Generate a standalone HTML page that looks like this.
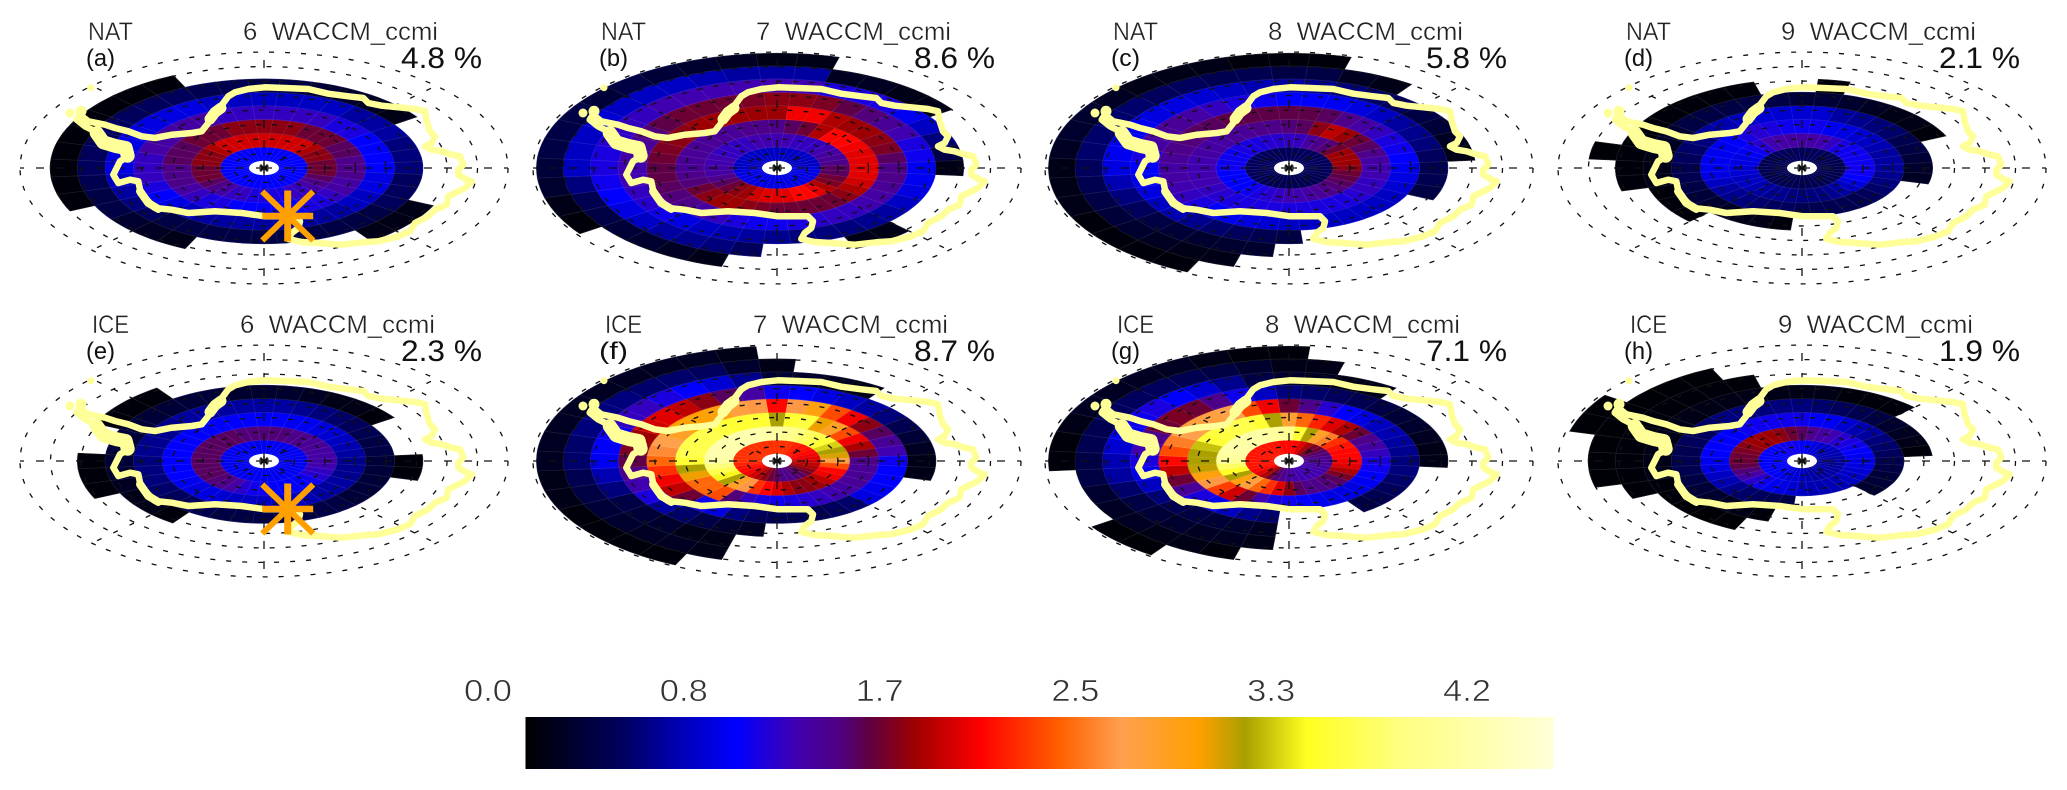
<!DOCTYPE html>
<html lang="en">
<head>
<meta charset="utf-8">
<title>NAT and ICE polar maps, WACCM_ccmi</title>
<style>
html,body{margin:0;padding:0;background:#fff;width:2067px;height:790px;overflow:hidden}
svg{display:block;filter:blur(.35px)}
text{font-family:"Liberation Sans",sans-serif;white-space:pre}
</style>
</head>
<body>
<svg id="chart" xmlns="http://www.w3.org/2000/svg" width="2067" height="790" viewBox="0 0 2067 790">
<rect width="2067" height="790" fill="#fff"/>
<defs>
<linearGradient id="cbGrad" x1="0" x2="1" y1="0" y2="0"></linearGradient>
</defs>
</svg>
<script>
const _ = null;
/* Colour bar */
const cbFractions = [0,.096,.147,.205,.263,.306,.335,.38,.443,.52,.58,.655,.70,.76,.85,1];
const cbColors = ['#000000','#000060','#0000b0','#0000ff','#4000b0','#500080','#600040','#a00000','#ff0000','#ff6000','#ffa050','#ffa000','#a8a000','#ffff20','#ffff80','#ffffd8'];
const cbTickLabels = ['0.0','0.8','1.7','2.5','3.3','4.2'];
const cbMax = 4.37;
/* Panel text */
const panelSpecies = ['NAT','NAT','NAT','NAT','ICE','ICE','ICE','ICE'];
const panelMonths = ['6','7','8','9','6','7','8','9'];
const panelLetters = ['(a)','(b)','(c)','(d)','(e)','(f)','(g)','(h)'];
const panelPercents = ['4.8','8.6','5.8','2.1','2.3','8.7','7.1','1.9'];
const starPanels = [0,4];
/* Gridded values: [ring 0..7 from the pole][sector 0..35 clockwise from top] */
const natJun = [
[.9,.9,.9,.9,.9,.9,.9,.9,.9, .9,.9,.9,.9,.9,.9,.9,.9,.9, .9,.9,.9,.9,.9,.9,.9,.9,.9, .9,.9,.9,.9,.9,.9,.9,.9,.9],
[1.8,1.8,1.8,1.8,1.8,1.7,1.6,1.6,1.5, 1.5,1.5,1.4,1.3,1.2,1.1,1.1,1,1, 1,1,1.1,1.1,1.2,1.3,1.4,1.5,1.5, 1.5,1.6,1.6,1.6,1.7,1.8,1.8,1.8,1.8],
[1.6,1.6,1.6,1.5,1.5,1.5,1.4,1.4,1.3, 1.3,1.3,1.2,1.2,1.1,1,1,.9,.9, .9,.9,.9,1,1,1.1,1.2,1.3,1.3, 1.3,1.4,1.4,1.4,1.5,1.5,1.5,1.6,1.6],
[1.1,1.1,1.1,1.1,1,1,.9,.9,.9, .9,.8,.8,.7,.7,.6,.6,.6,.6, .6,.6,.6,.6,.7,.8,.9,1,1.1, 1.1,1.1,1.2,1.2,1.2,1.2,1.2,1.1,1.1],
[.7,.7,.7,.7,.6,.6,.6,.5,.5, .5,.4,.4,.4,.3,.3,.3,.3,.3, .3,.3,.3,.3,.3,.4,.5,.6,.7, .8,.8,.8,.8,.8,.8,.8,.7,.7],
[.3,.3,.25,.2,.15,.1,_,_,_, _,_,_,.1,.1,.1,_,_,_, _,_,_,.1,.15,.2,.3,.3,.35, .4,.4,.4,.4,.4,.4,.4,.35,.35],
[_,_,_,_,_,_,_,_,_, _,_,_,_,_,_,_,_,_, _,_,_,_,_,_,_,.05,.05, .05,.05,.05,.05,.05,.05,.05,_,_],
[_,_,_,_,_,_,_,_,_, _,_,_,_,_,_,_,_,_, _,_,_,_,_,_,_,_,_, _,_,_,_,_,_,_,_,_]
];
const natJul = [
[.7,.7,.7,.7,.7,.7,.7,.7,.7, .8,.8,.8,.8,.8,.8,.8,.8,.8, .8,.8,.8,.8,.8,.8,.8,.8,.8, .7,.7,.7,.7,.7,.7,.7,.7,.7],
[1.15,1.15,1.1,1.1,1.1,1.15,1.2,1.25,1.3, 1.4,1.4,1.5,1.55,1.7,1.85,1.95,1.95,1.85, 1.85,1.85,1.8,1.65,1.6,1.5,1.4,1.3,1.2, 1.2,1.15,1.15,1.1,1.1,1.1,1.1,1.15,1.15],
[1.3,1.4,1.5,1.7,1.95,1.95,1.9,1.85,1.85, 1.85,1.85,1.8,1.7,1.6,1.5,1.5,1.5,1.5, 1.5,1.55,1.6,1.65,1.65,1.6,1.5,1.35,1.3, 1.25,1.25,1.25,1.25,1.25,1.25,1.25,1.3,1.3],
[1.65,1.9,1.9,1.7,1.65,1.65,1.6,1.55,1.4, 1.3,1.3,1.25,1.2,1.15,1.1,1.1,1.05,1, .95,.95,1,1.1,1.2,1.3,1.35,1.4,1.45, 1.45,1.5,1.55,1.6,1.6,1.65,1.65,1.65,1.65],
[1.6,1.6,1.55,1.45,1.35,1.25,1.15,1,.95, .85,.85,.8,.7,.6,.55,.5,.5,.5, .55,.6,.65,.7,.8,.95,1.05,1.1,1.15, 1.15,1.2,1.25,1.35,1.45,1.5,1.5,1.5,1.55],
[1.15,1.15,1,1,1,.85,.7,.5,.3, .1,_,_,_,_,.1,.1,_,_, _,.4,.5,.55,.6,.7,.8,.9,.95, 1,1,1.05,1.1,1.1,1.15,1.15,1.15,1.15],
[.6,.6,.15,.15,.1,.1,_,_,_, _,_,_,_,_,_,_,_,_, _,_,.1,.15,.2,.25,.3,.35,.5, .7,.7,.7,.75,.7,.7,.7,.65,.6],
[.1,.1,_,_,_,_,_,_,_, _,_,_,_,_,_,_,_,_, _,_,_,_,_,_,.05,.1,.2, .25,.3,.3,.3,.25,.3,.25,.2,.15]
];
const natAug = [
[.4,.4,.4,.4,.4,.4,.4,.4,.4, .4,.4,.4,.35,.35,.35,.35,.35,.35, .35,.35,.35,.35,.35,.35,.4,.4,.4, .4,.4,.4,.4,.4,.4,.4,.4,.4],
[1.1,1.1,1.2,1.3,1.35,1.5,1.65,1.65,1.65, 1.6,1.5,1.45,1.4,1.35,1.3,1.25,1.2,1.15, 1.15,1.1,1.05,1,.95,.9,.9,.9,.9, .95,.95,.95,.95,1,1,1,1.05,1.05],
[1.35,1.4,1.6,1.75,1.65,1.5,1.4,1.3,1.2, 1.15,1.15,1.1,1.1,1.05,1,1,1,1, 1,1,1,1,1,1.05,1.1,1.15,1.15, 1.15,1.15,1.2,1.2,1.2,1.25,1.25,1.3,1.3],
[1.45,1.45,1.4,1.3,1.2,1.1,1,.95,.9, .85,.8,.75,.7,.7,.7,.7,.7,.7, .7,.75,.8,.85,.9,1,1.1,1.15,1.2, 1.2,1.25,1.3,1.35,1.4,1.4,1.45,1.45,1.45],
[.9,.9,.85,.8,.7,.6,.55,.5,.4, .35,.35,.3,_,_,_,_,_,_, .3,.35,.4,.45,.55,.65,.7,.8,.85, .9,1,1.2,1.25,1.25,1.2,1.1,1,.95],
[.6,.55,.5,.45,.4,.3,.25,.15,.1, _,_,_,_,_,_,_,_,_, _,.2,.2,.2,.25,.3,.4,.5,.65, .8,.85,.85,.85,.8,.8,.75,.7,.65],
[.3,.3,.15,.1,_,_,_,_,_, _,_,_,_,_,_,_,_,_, _,_,.1,.1,.15,.2,.25,.3,.35, .4,.45,.45,.45,.45,.4,.4,.35,.35],
[.05,.05,_,_,_,_,_,_,_, _,_,_,_,_,_,_,_,_, _,_,_,.05,.05,.05,.05,.1,.1, .1,.15,.2,.2,.15,.1,.1,.1,.05]
];
const natSep = [
[.4,.4,.4,.4,.35,.35,.35,.35,.35, .35,.35,.35,.35,.35,.35,.35,.35,.35, .35,.35,.35,.35,.35,.35,.35,.35,.35, .35,.35,.35,.35,.35,.4,.4,.4,.4],
[1.2,1.2,1.15,1.1,1,.95,.95,.95,.95, .95,.95,.9,.8,.7,.6,.55,.5,.5, .5,.5,.55,.55,.6,.65,.7,.7,.75, .75,.8,.8,.85,.95,1.05,1.15,1.2,1.2],
[.95,.95,.85,.8,.75,.7,.65,.6,.6, .6,.55,.5,.45,.4,.35,.35,.35,.35, .35,.4,.4,.45,.5,.55,.6,.7,.8, .85,.85,.85,.85,.9,1,1.05,1,.95],
[.75,.75,.6,.55,.5,.45,.35,.3,.25, .2,.15,_,_,_,_,_,_,_, _,.05,.1,.1,.15,.2,.25,.3,.35, .35,.4,.45,.5,.6,.65,.7,.75,.75],
[.25,.25,.2,.15,.1,.1,.05,_,_, _,_,_,_,_,_,_,_,_, _,_,_,_,_,.05,.05,.05,.1, .1,.1,.15,.2,.3,.3,.3,.3,.3],
[_,.05,_,_,_,_,_,_,_, _,_,_,_,_,_,_,_,_, _,_,_,_,_,_,_,_,.05, .05,.05,.05,.05,.05,.05,.05,.05,_],
[_,_,_,_,_,_,_,_,_, _,_,_,_,_,_,_,_,_, _,_,_,_,_,_,_,_,_, _,.03,_,_,_,_,_,_,_],
[_,_,_,_,_,_,_,_,_, _,_,_,_,_,_,_,_,_, _,_,_,_,_,_,_,_,_, _,_,_,_,_,_,_,_,_]
];
const iceJun = [
[.85,.85,.85,.85,.85,.85,.85,.85,.85, .85,.85,.85,.85,.85,.85,.85,.85,.85, .85,.85,.85,.85,.85,.85,.85,.85,.85, .85,.85,.85,.85,.85,.85,.85,.85,.85],
[1.35,1.35,1.35,1.3,1.3,1.25,1.25,1.2,1.2, 1.2,1.15,1.1,1.05,.95,.9,.9,.9,.9, .95,.95,1.05,1.2,1.3,1.35,1.4,1.4,1.4, 1.4,1.4,1.4,1.4,1.4,1.4,1.4,1.35,1.35],
[.9,.9,.85,.85,.8,.75,.7,.65,.6, .55,.55,.55,.6,.6,.6,.65,.7,.7, .7,.7,.7,.75,.8,.8,.85,.9,.9, .9,.9,.9,.9,.9,.9,.9,.9,.9],
[.6,.6,.55,.5,.45,.4,.35,.3,.3, .25,.25,.25,.25,.25,.3,.3,.3,.3, .3,.3,.3,.35,.4,.4,.45,.5,.5, .5,.55,.55,.55,.55,.6,.6,.6,.6],
[.2,.2,.15,.1,.1,.05,_,_,_, .05,.05,_,_,_,_,_,_,_, _,_,_,_,.05,.1,.1,.15,.2, .25,.25,.25,.25,.25,.25,.25,.25,.2],
[_,_,_,_,_,_,_,_,_, _,_,_,_,_,_,_,_,_, _,_,_,_,_,_,_,.05,.05, .05,_,_,.05,.05,.05,_,_,_],
[_,_,_,_,_,_,_,_,_, _,_,_,_,_,_,_,_,_, _,_,_,_,_,_,_,_,_, _,_,_,_,_,_,_,_,_],
[_,_,_,_,_,_,_,_,_, _,_,_,_,_,_,_,_,_, _,_,_,_,_,_,_,_,_, _,_,_,_,_,_,_,_,_]
];
const iceJul = [
[2.1,2.1,2.1,2.05,2,2,1.95,1.9,1.85, 1.8,1.75,1.7,1.6,1.5,1.4,1.35,1.3,1.3, 1.4,1.5,1.6,1.7,1.8,1.9,1.95,2,2.05, 2.1,2.1,2.1,2.1,2.1,2.1,2.1,2.1,2.1],
[3.95,3.85,3.75,3.6,3.5,3.4,3.2,3.05,2.95, 2.6,2.2,1.95,1.9,1.75,1.65,1.6,1.6,1.7, 1.85,1.95,2.1,2.5,2.7,3.05,3.3,3.5,3.7, 3.95,4.05,4.05,4.05,4.05,4.05,4.05,4.05,4],
[3.05,3.4,3.45,2.9,2.7,2.2,1.9,1.7,1.5, 1.3,1.25,1.25,1.25,1.2,1.15,1.1,1.05,1, .95,1,1.1,1.35,2.2,2.3,2.3,2.9,3.05, 3.4,3.5,3.5,3.5,3.5,3.45,3.4,3.4,3.4],
[1.95,2.5,2.8,2.2,1.9,1.6,1.4,1.25,1.15, .95,.9,.9,.85,.8,.45,.4,.35,.35, .35,.4,.5,.8,.95,1.5,1.75,1.9,2.1, 2.3,2.45,2.55,2.7,2.85,2.85,2.8,2.6,2.5],
[.95,.9,.8,.7,.6,.5,.35,.25,.15, .1,.1,_,_,_,_,_,_,_, _,.15,.2,.3,.45,.6,1,1.15,1.3, 1.45,1.55,1.65,1.8,1.85,1.75,1.6,1.4,1.2],
[.25,.2,.15,.1,_,_,_,_,_, _,_,_,_,_,_,_,_,_, _,_,.1,.1,.2,.25,.3,.5,.65, .85,.9,.95,1.1,1.1,1,.9,.75,.55],
[.1,_,_,_,_,_,_,_,_, _,_,_,_,_,_,_,_,_, _,_,.1,.15,.15,.2,.25,.3,.35, .45,.45,.5,.5,.5,.45,.45,.4,.2],
[_,_,_,_,_,_,_,_,_, _,_,_,_,_,_,_,_,_, _,_,_,.05,.05,.05,.05,.1,.1, .15,.15,.15,.15,.15,.15,.15,.15,.1]
];
const iceAug = [
[1.95,1.95,1.85,1.7,1.55,1.5,1.4,1.35,1.3, 1.25,1.25,1.2,1.2,1.15,1.15,1.15,1.15,1.2, 1.2,1.3,1.35,1.5,1.7,1.85,1.95,2,2, 2,2,2,2,2,2,2,2,1.95],
[3.8,3.4,3.05,2.7,2.4,2.1,2,1.95,1.95, 1.9,1.85,1.7,1.55,1.4,1.35,1.3,1.3,1.4, 1.6,1.85,2.1,2.3,2.6,2.8,3.05,3.35,3.6, 3.85,3.95,4,4,4,4,4,3.95,3.9],
[2.65,2.3,2.05,1.85,1.7,1.5,1.3,1.2,1.1, 1,.95,.9,.85,.8,.8,.8,.85,.9, .95,1,1.15,1.5,1.8,2.15,2.5,2.8,3, 3.05,3.05,3.15,3.4,3.45,3.5,3.5,3.4,3.05],
[1.5,1.3,1.05,.9,.8,.7,.65,.6,.55, .5,.5,.45,.4,.35,.3,_,_,_, _,.45,.55,.7,.85,1,1.25,1.5,1.75, 1.95,2.2,2.4,2.55,2.6,2.6,2.55,2.2,1.9],
[.5,.45,.4,.35,.3,.25,.2,.15,.1, .1,_,_,_,_,_,_,_,_, _,.15,.2,.25,.3,.35,.5,.7,.85, 1,1.15,1.3,1.5,1.55,1.5,1.3,.95,.7],
[.2,.15,.1,.1,_,_,_,_,_, _,_,_,_,_,_,_,_,_, _,.1,.15,.15,.2,.25,.3,.45,.6, .65,.75,.85,.95,1,.9,.75,.55,.3],
[.1,.1,_,_,_,_,_,_,_, _,_,_,_,_,_,_,_,_, _,_,.05,.1,.1,.15,.15,.2,.3, .3,.35,.35,.4,.4,.4,.35,.3,.2],
[.05,_,_,_,_,_,_,_,_, _,_,_,_,_,_,_,_,_, _,_,_,_,.03,.03,_,_,_, .05,.05,.1,.15,.15,.15,.15,.1,.05]
];
const iceSep = [
[.9,.85,.8,.75,.7,.7,.65,.65,.6, .6,.6,.6,.6,.6,.6,.6,.6,.65, .7,.75,.75,.8,.85,.9,.9,.9,.9, .9,.9,.9,.9,.9,.95,.95,.95,.95],
[1.4,1.3,1.2,1.15,1.05,1,.95,.9,.85, .8,.8,.75,.7,.7,.65,.65,.65,.65, .7,.75,.8,.85,.95,1.05,1.2,1.35,1.45, 1.5,1.5,1.55,1.6,1.65,1.65,1.65,1.6,1.5],
[.95,.9,.85,.75,.65,.6,.5,.45,.4, .35,.3,.25,.25,.2,_,_,_,_, _,.3,.35,.4,.45,.55,.65,.7,.8, .85,.9,.9,.9,.9,.95,.95,.95,.95],
[.5,.45,.4,.35,.3,.2,.15,.1,.05, _,_,_,_,_,_,_,_,_, _,_,.05,.1,.15,.2,.25,.3,.35, .35,.35,.4,.4,.45,.5,.5,.5,.5],
[.1,.1,.05,.05,.05,_,_,_,_, _,_,_,_,_,_,_,_,_, _,_,_,.02,.02,.03,.05,.05,.1, .1,.1,.1,.1,.1,.1,.1,.1,.1],
[_,_,_,_,_,_,_,_,_, _,_,_,_,_,_,_,_,_, _,_,_,_,_,_,_,.04,.04, .05,.05,.05,.05,.05,.05,.05,.04,_],
[_,_,_,_,_,_,_,_,_, _,_,_,_,_,_,_,_,_, _,_,_,_,_,_,_,_,.03, .03,.03,.03,.03,.03,.03,.03,_,_],
[_,_,_,_,_,_,_,_,_, _,_,_,_,_,_,_,_,_, _,_,_,_,_,_,_,_,_, _,_,.03,.03,_,_,_,_,_]
];
const panelValues = [natJun,natJul,natAug,natSep,iceJun,iceJul,iceAug,iceSep];
/* Coastline in map units, origin at coastOrigin */
const coastOrigin = [787,505];
const coastLine = [[235,345],[260,365],[310,375],[340,385],[380,395],[420,410],[460,415],[510,405],[570,400],[600,395],[620,370],[632,345],[650,330],[665,310],[680,290],[700,278],[740,268],[790,263],[850,265],[920,268],[980,282],[1040,290],[1085,295],[1100,310],[1140,318],[1190,323],[1240,328],[1270,335],[1275,365],[1285,395],[1300,410],[1290,430],[1270,440],[1290,450],[1320,455],[1350,465],[1375,470],[1385,495],[1370,510],[1370,525],[1395,540],[1410,545],[1390,565],[1370,575],[1340,590],[1335,615],[1300,630],[1280,650],[1240,670],[1225,695],[1190,710],[1130,725],[1085,728],[1020,735],[950,730],[900,727],[860,718],[870,700],[890,685],[895,665],[880,650],[850,650],[790,650],[720,640],[640,635],[560,640],[510,630],[460,625],[430,595],[415,570],[410,545],[385,540],[350,550],[335,525],[345,505],[355,485],[380,470],[375,440],[350,430],[320,425],[295,420],[280,395],[250,380],[225,360],[235,345]];
const coastBlobs = [[205,340,4.5],[238,335,5.5],[268,264,3.5]];
const coastThick = [[[285,400],[305,428],[345,440],[372,445],[378,468]],[[625,358],[640,338],[658,325]],[[415,575],[440,610],[470,628]]];

/* Layout */
const NS = 'http://www.w3.org/2000/svg';
const svg = document.getElementById('chart');
const centreX = [264,777,1289,1802];
const centreY = [168,461];
const ASPECT = .477;
const RING_COUNT = 8;
function mk(tag, parent){
  const el = document.createElementNS(NS, tag);
  parent.appendChild(el);
  return el;
}
function lerpHex(a,b,t){
  const pa=[1,3,5].map(i=>parseInt(a.substr(i,2),16));
  const pb=[1,3,5].map(i=>parseInt(b.substr(i,2),16));
  return pa.map((v,i)=>Math.round(v+(pb[i]-v)*t));
}
function valueRgb(v){
  const f=Math.max(0,Math.min(1,v/cbMax));
  for(let i=1;i<cbFractions.length;i++){
    if(f<=cbFractions[i]){
      return lerpHex(cbColors[i-1],cbColors[i],(f-cbFractions[i-1])/(cbFractions[i]-cbFractions[i-1]));
    }
  }
  return lerpHex(cbColors[15],cbColors[15],0);
}
function ringRadius(k){
  const colat=2.5+5*k;
  return 543*Math.sin(.0108*colat);
}
function sectorAngle(s){
  return (s-.5)*10*Math.PI/180;
}
function project(cx,cy,r,a){
  return [cx+r*Math.sin(a), cy-r*ASPECT*Math.cos(a)];
}
function cellPath(cx,cy,ring,sector){
  const r0=ringRadius(ring), r1=ringRadius(ring+1);
  const a0=sectorAngle(sector), a1=sectorAngle(sector+1);
  const pts=[];
  for(let i=0;i<=4;i++){pts.push(project(cx,cy,r1,a0+(a1-a0)*i/4));}
  for(let i=4;i>=0;i--){pts.push(project(cx,cy,r0,a0+(a1-a0)*i/4));}
  return 'M'+pts.map(p=>p[0].toFixed(1)+' '+p[1].toFixed(1)).join('L')+'Z';
}
function label(parent,x,y,str,size,width,fill,thin){
  const t=mk('text',parent);
  t.setAttribute('x',x);
  t.setAttribute('y',y);
  t.setAttribute('font-size',size);
  t.setAttribute('fill',fill);
  t.setAttribute('textLength',width);
  t.setAttribute('lengthAdjust','spacingAndGlyphs');
  if(thin){
    t.setAttribute('stroke','#fff');
    t.setAttribute('stroke-width',thin);
  }
  t.textContent=str;
  return t;
}
function mapPoint(cx,cy,q){
  return (cx+(q[0]-coastOrigin[0])/3).toFixed(1)+','+(cy+(q[1]-coastOrigin[1])/3).toFixed(1);
}

panelValues.forEach((rows,p)=>{
  const cx=centreX[p%4], cy=centreY[p<4?0:1];
  const g=mk('g',svg);
  
  

  const cells=mk('g',g);
  
  
  rows.forEach((row,ring)=>{
    row.forEach((v,sector)=>{
      if(v===null||v===undefined)return;
      const rgb=valueRgb(v);
      const line=rgb.map(c=>Math.round(c+(255-c)*.12));
      const cell=mk('path',cells);
      
      
      cell.setAttribute('d',cellPath(cx,cy,ring,sector));
      cell.setAttribute('fill','rgb('+rgb.join(',')+')');
      cell.setAttribute('stroke','rgb('+line.join(',')+')');
      cell.setAttribute('stroke-width','.6');
    });
  });

  const hole=mk('ellipse',g);
  
  
  hole.setAttribute('cx',cx);
  hole.setAttribute('cy',cy);
  hole.setAttribute('rx',15);
  hole.setAttribute('ry',7.2);
  hole.setAttribute('fill','#fff');

  const grid=mk('g',g);
  
  
  grid.setAttribute('fill','none');
  grid.setAttribute('stroke','#111');
  grid.setAttribute('stroke-width','1.3');
  for(let k=1;k<=RING_COUNT;k++){
    const ring=mk('ellipse',grid);
    
    
    ring.setAttribute('cx',cx);
    ring.setAttribute('cy',cy);
    ring.setAttribute('rx',30.5*k);
    ring.setAttribute('ry',30.5*k*.475);
    ring.setAttribute('stroke-dasharray','5 11');
  }
  for(let d=0;d<8;d++){
    const a=d*45*Math.PI/180;
    const end=project(cx,cy,244,a);
    const spoke=mk('line',grid);
    
    
    spoke.setAttribute('x1',cx);
    spoke.setAttribute('y1',cy);
    spoke.setAttribute('x2',end[0].toFixed(1));
    spoke.setAttribute('y2',end[1].toFixed(1));
    spoke.setAttribute('stroke-dasharray',d%2?'5 13':'8 12');
  }
  for(let d=0;d<4;d++){
    const a=d*45*Math.PI/180;
    const mark=mk('line',grid);
    
    
    mark.setAttribute('x1',cx-5*Math.sin(a));
    mark.setAttribute('y1',cy-5*Math.cos(a));
    mark.setAttribute('x2',cx+5*Math.sin(a));
    mark.setAttribute('y2',cy+5*Math.cos(a));
    mark.setAttribute('stroke-width','1.4');
  }

  const coast=mk('g',g);
  
  
  coast.setAttribute('fill','none');
  coast.setAttribute('stroke','#ffff99');
  coast.setAttribute('stroke-linejoin','round');
  coast.setAttribute('stroke-linecap','round');
  const poly=mk('polyline',coast);
  
  
  poly.setAttribute('points',coastLine.map(q=>mapPoint(cx,cy,q)).join(' '));
  poly.setAttribute('stroke-width','6.5');
  coastThick.forEach((seg,idx)=>{
    const thick=mk('polyline',coast);
    
    
    thick.setAttribute('points',seg.map(q=>mapPoint(cx,cy,q)).join(' '));
    thick.setAttribute('stroke-width',idx===0?14:(idx===1?11:8));
  });
  coastBlobs.forEach(b=>{
    const blob=mk('circle',coast);
    
    
    blob.setAttribute('cx',(cx+(b[0]-coastOrigin[0])/3).toFixed(1));
    blob.setAttribute('cy',(cy+(b[1]-coastOrigin[1])/3).toFixed(1));
    blob.setAttribute('r',b[2]);
    blob.setAttribute('fill','#ffff99');
    blob.setAttribute('stroke','none');
  });

  if(starPanels.includes(p)){
    const star=mk('g',g);
    
    
    star.setAttribute('stroke','#ffa000');
    const sx=cx+23.7, sy=cy+48;
    [[0,-25.5,7],[25.5,0,6.5],[25.5,-24.5,6],[25.5,24.5,6]].forEach(s=>{
      const arm=mk('line',star);
      
      
      arm.setAttribute('x1',sx-s[0]);
      arm.setAttribute('y1',sy-s[1]);
      arm.setAttribute('x2',sx+s[0]);
      arm.setAttribute('y2',sy+s[1]);
      arm.setAttribute('stroke-width',s[2]);
    });
  }

  const rowTwo=p>=4;
  const species=label(g,cx-(rowTwo?172:176),cy-128,panelSpecies[p],25,rowTwo?37:45,'#222','.35');
  
  
  const title=label(g,cx-(rowTwo?24:21),cy-128,panelMonths[p]+'  WACCM_ccmi',25,195,'#222','.35');
  
  
  const letter=label(g,cx-178,cy-102,panelLetters[p],24,29,'#111');
  
  
  const pct=label(g,cx+137,cy-100,panelPercents[p]+' %',30,81,'#111');
  
  
});

/* Colour bar */
const grad=document.getElementById('cbGrad');
cbFractions.forEach((f,i)=>{
  const st=mk('stop',grad);
  st.setAttribute('offset',f);
  st.setAttribute('stop-color',cbColors[i]);
});
const bar=mk('rect',svg);


bar.setAttribute('x',525.5);
bar.setAttribute('y',717);
bar.setAttribute('width',1028);
bar.setAttribute('height',52);
bar.setAttribute('fill','url(#cbGrad)');
cbTickLabels.forEach((s,i)=>{
  const t=label(svg,464+i*195.8,701,s,31,48,'#333','.6');
  
  
});
</script>
</body>
</html>
